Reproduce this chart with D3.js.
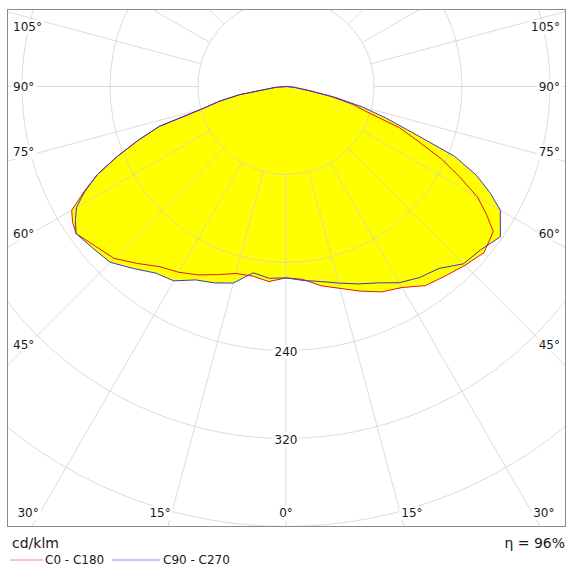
<!DOCTYPE html>
<html>
<head>
<meta charset="utf-8">
<script src="https://cdn.jsdelivr.net/npm/d3@7"></script>
<style>
  body { margin: 0; background: #fff; }
  text { font-family: Tahoma, "DejaVu Sans", sans-serif; fill: #1a1a1a; }
</style>
</head>
<body>
<script>
"use strict";

// gamma angles (deg from nadir) and intensities in cd/klm
const gammaAngles = [0, 5, 10, 15, 20, 25, 30, 35, 40, 45, 50, 55, 57.5, 60, 62.5, 65, 67.5, 70, 72.5, 75, 77.5, 80, 85, 90];
const c180Values = [174, 178, 175, 176, 182, 189, 195, 200, 210, 221, 226, 233, 230, 225, 207, 189, 166, 143, 121, 79, 62, 43, 10, 0];
const c0Values   = [174, 176, 184, 190, 198, 206, 211, 221, 225, 230, 235, 230, 216, 201, 178, 156, 130, 110, 78, 63, 42, 20, 6, 0];
const c270Values = [174, 175, 172, 185, 190, 194, 204, 207, 216, 226, 229, 233, 227, 220, 206, 189, 166, 143, 121, 80, 62, 43, 10, 0];
const c90Values  = [174, 177, 180, 185, 191, 197, 206, 212, 216, 228, 231, 238, 231, 225, 209, 191, 166, 122, 95, 72, 46, 22, 7, 0];

const ringValues = [80, 160, 240, 320, 400, 480, 560];
const ringLabels = [240, 320];
const angleTicks = [0, 15, 30, 45, 60, 75, 90, 105];
const seriesNames = ["C0 - C180", "C90 - C270"];
const efficiency = "η = 96%";
const unitLabel = "cd/klm";

(function() {

const width = 578;
const height = 573;
const frame = {x: 7, y: 9, w: 559, h: 518};
const cx = 286, cy = 86.5;

let r = d3.scaleLinear()
    .domain([0, 400])
    .range([0, 440]);

let svg = d3.select("body").append("svg")
    .attr("width", width)
    .attr("height", height);

svg.append("defs").append("clipPath")
    .attr("id", "plotclip")
  .append("rect")
    .attr("x", frame.x)
    .attr("y", frame.y)
    .attr("width", frame.w)
    .attr("height", frame.h);

let plot = svg.append("g")
    .attr("clip-path", "url(#plotclip)");

let g = plot.append("g")
    .attr("transform", `translate(${cx},${cy})`);

// left half goes from 90 down to 0, right half from 0 up to 90
function curvePoints(leftVals, rightVals) {
    let pts = [];
    for (let i = gammaAngles.length - 1; i >= 0; i--) {
        pts.push([Math.PI + gammaAngles[i] * Math.PI / 180, r(leftVals[i])]);
    }
    for (let i = 0; i < gammaAngles.length; i++) {
        pts.push([Math.PI - gammaAngles[i] * Math.PI / 180, r(rightVals[i])]);
    }
    return pts;
}

let radial = d3.lineRadial()
    .angle(d => d[0])
    .radius(d => d[1]);

let curves = [
    {name: seriesNames[0], color: "#e01818", pts: curvePoints(c180Values, c0Values)},
    {name: seriesNames[1], color: "#3838c8", pts: curvePoints(c270Values, c90Values)}
];

// yellow fill of both planes
g.selectAll("path.fill")
    .data(curves)
    .enter()
    .append("path")
    .attr("class", "fill")
    .attr("d", d => radial(d.pts) + "Z")
    .style("fill", "#ffff00")
    .style("stroke", "none");

// grid
let grid = g.append("g")
    .style("stroke", "#cfcfcf")
    .style("stroke-opacity", 0.75)
    .style("fill", "none");

grid.selectAll("circle")
    .data(ringValues)
    .enter()
    .append("circle")
    .attr("r", d => r(d));

let spokes = d3.range(0, 360, 15);
grid.selectAll("line")
    .data(spokes)
    .enter()
    .append("line")
    .attr("x1", d => r(80) * Math.sin(d * Math.PI / 180))
    .attr("y1", d => r(80) * Math.cos(d * Math.PI / 180))
    .attr("x2", d => 800 * Math.sin(d * Math.PI / 180))
    .attr("y2", d => 800 * Math.cos(d * Math.PI / 180));

// curve outlines
g.selectAll("path.line")
    .data(curves)
    .enter()
    .append("path")
    .attr("class", "line")
    .attr("d", d => radial(d.pts) + "Z")
    .style("fill", "none")
    .style("stroke", d => d.color)
    .style("stroke-width", 1);

// labels with white boxes
function boxedLabel(parent, x, y, txt, anchor) {
    let t = parent.append("text")
        .attr("x", x)
        .attr("y", y)
        .attr("dy", "0.35em")
        .attr("text-anchor", anchor)
        .style("font-size", "12px")
        .text(txt);
    let b = t.node().getBBox();
    parent.insert("rect", function() { return t.node(); })
        .attr("x", b.x - 2)
        .attr("y", b.y)
        .attr("width", b.width + 4)
        .attr("height", b.height)
        .style("fill", "#fff");
}

ringLabels.forEach(v => boxedLabel(g, 0, r(v) + 1.5, v, "middle"));

let labels = svg.append("g");
let inner = {left: 23, right: 549, top: 27, bottom: 513};

angleTicks.forEach(a => {
    let rad = a * Math.PI / 180;
    [-1, 1].forEach(side => {
        if (a === 0 && side > 0) return;
        let x, y, anchor;
        let xt = side < 0 ? inner.left : inner.right;
        let t = Math.abs(xt - cx) / Math.sin(rad);
        let yHit = a === 0 ? Infinity : cy + t * Math.cos(rad);
        if (yHit > inner.bottom) {
            let tb = (inner.bottom - cy) / Math.cos(rad);
            x = cx + side * tb * Math.sin(rad);
            y = inner.bottom;
            anchor = a === 0 ? "middle" : (side < 0 ? "end" : "start");
            if (a === 0) x = cx;
            else x += side * 1;
        } else {
            x = side < 0 ? 13 : 560;
            anchor = side < 0 ? "start" : "end";
            if (a < 90) y = yHit - 5;
            else if (a === 90) y = yHit;
            else y = Math.max(yHit + 6, inner.top);
        }
        boxedLabel(labels, x, y, a + "°", anchor);
    });
});

// frame
svg.append("rect")
    .attr("x", frame.x + 0.5)
    .attr("y", frame.y + 0.5)
    .attr("width", frame.w - 1)
    .attr("height", frame.h - 1)
    .style("fill", "none")
    .style("stroke", "#8a8a8a");

// footer
svg.append("text")
    .attr("x", 12)
    .attr("y", 548)
    .style("font-size", "14px")
    .text(unitLabel);

svg.append("text")
    .attr("x", 565)
    .attr("y", 548)
    .attr("text-anchor", "end")
    .style("font-size", "14px")
    .text(efficiency);

let legendColors = ["#f08a8a", "#8a8ae8"];
let legendX = [10, 112];
let legend = svg.selectAll("g.legend")
    .data(seriesNames)
    .enter()
    .append("g")
    .attr("class", "legend")
    .attr("transform", (d, i) => `translate(${legendX[i]},560)`);

legend.append("line")
    .attr("x1", 0)
    .attr("x2", (d, i) => i === 0 ? 33 : 48)
    .style("stroke", (d, i) => legendColors[i])
    .style("stroke-width", 1);

legend.append("text")
    .attr("x", (d, i) => i === 0 ? 35 : 51)
    .attr("dy", "0.35em")
    .style("font-size", "12px")
    .text(d => d);

})();
</script>
</body>
</html>
